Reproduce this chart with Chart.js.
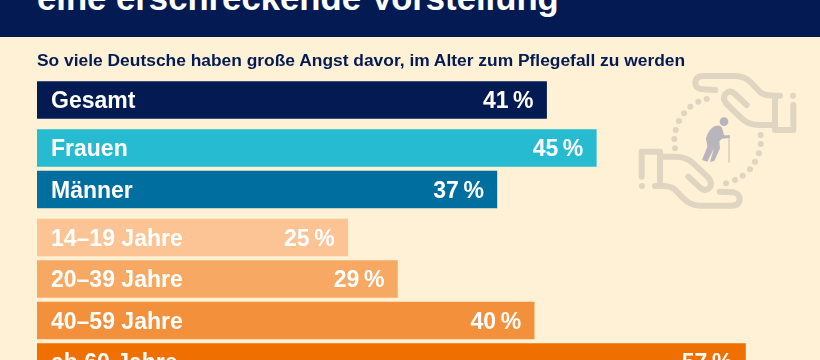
<!DOCTYPE html>
<html lang="de">
<head>
<meta charset="utf-8">
<title>Pflegefall</title>
<script src="https://cdn.jsdelivr.net/npm/chart.js@4"></script>
<style>
    html, body { margin: 0; padding: 0; width: 820px; height: 360px; overflow: hidden; background: #fff1d6; font-family: "Liberation Sans", Arial, sans-serif; }
    #header { position: absolute; left: 0; top: 0; width: 820px; height: 37px; background: #041a52; overflow: hidden; }
    #title { position: absolute; left: 37px; top: -22px; font-size: 34.7px; line-height: 40px; font-weight: bold; color: #fff; white-space: nowrap; }
    #subtitle { position: absolute; left: 37px; top: 50px; font-size: 17.4px; line-height: 20px; font-weight: bold; color: #041a52; white-space: nowrap; }
    #icon { position: absolute; left: 620px; top: 80px; overflow: visible; }
    #chart-box { position: absolute; left: 0; top: 0; width: 820px; height: 400px; }
</style>
</head>
<body>
<div id="chart-box"><canvas id="bar-chart"></canvas></div>
<div id="header"><div id="title">eine erschreckende Vorstellung</div></div>
<div id="subtitle">So viele Deutsche haben große Angst davor, im Alter zum Pflegefall zu werden</div>

<svg id="icon" width="200" height="140" viewBox="0 0 600 420">
    <defs>
        <g id="hand" fill="none" stroke="#dfd5c1" stroke-width="18" stroke-linecap="round" stroke-linejoin="round">
            <path d="M286 30 L245 28 Q225 24 226 6 Q228 -12 250 -12 L345 -12 Q375 -12 395 10 L420 36 Q435 50 480 47"/>
            <path d="M380 75 L345 42 Q330 28 316 42 Q306 55 320 72 L365 115 Q385 135 420 135 L465 135"/>
            <path d="M465 60 L465 150 L520 150 L520 75"/>
            <circle cx="519" cy="47" r="9" fill="#dfd5c1" stroke="none"/>
        </g>
    </defs>
    <use href="#hand"/>
    <use href="#hand" transform="rotate(180 292.5 182.5)"/>
    <g fill="#dfd5c1">
        <circle cx="260" cy="57" r="9"/><circle cx="235" cy="65" r="9"/><circle cx="211" cy="80" r="9"/><circle cx="192" cy="100" r="9"/>
        <circle cx="177" cy="123" r="9"/><circle cx="167" cy="150" r="9"/><circle cx="163" cy="177" r="9"/><circle cx="165" cy="205" r="9"/>
        <circle cx="422" cy="165" r="9"/><circle cx="422" cy="192" r="9"/><circle cx="417" cy="220" r="9"/><circle cx="405" cy="245" r="9"/>
        <circle cx="390" cy="268" r="9"/><circle cx="368" cy="287" r="9"/><circle cx="345" cy="300" r="9"/><circle cx="318" cy="310" r="9"/>
    </g>
    <g fill="#b9b5bd">
        <circle cx="312" cy="125" r="13"/>
        <path d="M285 138 Q305 132 308 150 L312 166 L330 166 L330 174 L306 176 L298 184 L300 205 L283 243 L270 246 L282 205 L262 245 L246 240 L262 200 L258 175 Q266 146 285 138 Z"/>
    </g>
    <path d="M327 175 L327 248" stroke="#cfc9c4" stroke-width="4" fill="none"/>
</svg>

<script>
const categories = ['Gesamt', 'Frauen', 'Männer', '14–19 Jahre', '20–39 Jahre', '40–59 Jahre', 'ab 60 Jahre'];
const shares = [41, 45, 37, 25, 29, 40, 57];
const groups = [0, 1, 1, 2, 2, 2, 2];
const barColors = ['#041a52', '#26bbd1', '#006f9f', '#fcc495', '#f7a963', '#f3903c', '#ef6f00'];

const groupGap = 0.157; // extra space between the three blocks, in rows

const barLabels = {
    id: 'barLabels',
    afterDatasetsDraw(chart) {
        const ctx = chart.ctx;
        const meta = chart.getDatasetMeta(0);
        ctx.save();
        ctx.fillStyle = '#fff';
        ctx.font = 'bold 23px "Liberation Sans", Arial, sans-serif';
        ctx.textBaseline = 'middle';
        meta.data.forEach((bar, i) => {
            ctx.textAlign = 'left';
            ctx.fillText(categories[i], chart.scales.x.getPixelForValue(0) + 14, bar.y + 2);
            ctx.textAlign = 'right';
            ctx.fillText(shares[i] + '\u2009%', bar.x - 13, bar.y + 2);
        });
        ctx.restore();
    }
};

new Chart(document.getElementById('bar-chart').getContext('2d'), {
    type: 'bar',
    data: {
        datasets: [{
            data: shares.map((v, i) => ({ x: v, y: i + groups[i] * groupGap })),
            backgroundColor: barColors,
            barThickness: 37,
            borderWidth: 0
        }]
    },
    options: {
        indexAxis: 'y',
        responsive: true,
        maintainAspectRatio: false,
        animation: false,
        layout: { padding: { left: 37, top: 79.25, right: 0, bottom: 0 } },
        plugins: { legend: { display: false }, title: { display: false }, tooltip: { enabled: false } },
        scales: {
            x: { type: 'linear', min: 0, max: 63, display: false },
            y: { type: 'linear', reverse: true, offset: false, min: -0.5, max: 7.23, display: false }
        }
    },
    plugins: [barLabels]
});
</script>
</body>
</html>
